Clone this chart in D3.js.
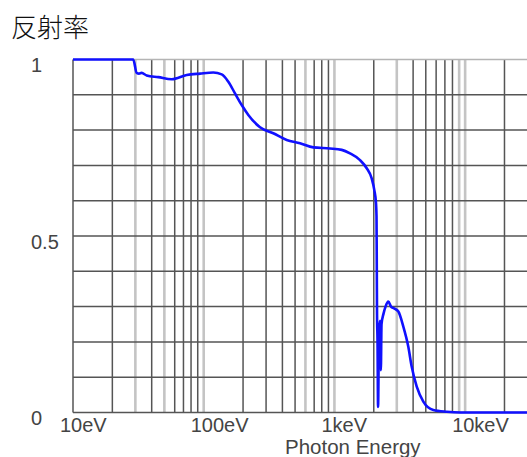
<!DOCTYPE html>
<html>
<head>
<meta charset="utf-8">
<script src="https://cdn.jsdelivr.net/npm/d3@7/dist/d3.min.js"></script>
<style>
html,body{margin:0;padding:0;background:#fff;}
svg{display:block;}
</style>
</head>
<body>
<svg id="chart" width="527" height="457"></svg>
<script>
// Data
const energyEV = [10, 28.9, 30.7, 32, 33.5, 36.6, 45, 56.9, 74.1, 93.7, 118.4, 137.3, 154.3, 173.5, 195.3, 219.4, 269.6, 340.7, 431.3, 545, 690, 925, 1137, 1316, 1570, 1766, 1928, 2019, 2080, 2099, 2110, 2118, 2137, 2157, 2193, 2233, 2265, 2293, 2375, 2461, 2584, 2710, 2858, 3083, 3367, 3675, 3900, 4263, 4788, 5712, 7227, 9145, 30000];
const reflectance = [1.0, 1.0, 0.962, 0.960, 0.962, 0.955, 0.950, 0.944, 0.956, 0.960, 0.963, 0.958, 0.937, 0.904, 0.871, 0.843, 0.808, 0.791, 0.772, 0.763, 0.751, 0.748, 0.744, 0.734, 0.715, 0.692, 0.663, 0.630, 0.593, 0.555, 0.40, 0.28, 0.20, 0.016, 0.23, 0.26, 0.12, 0.25, 0.28, 0.30, 0.314, 0.30, 0.295, 0.286, 0.243, 0.186, 0.13, 0.073, 0.031, 0.007, 0.002, 0, 0];
const xTickValues = [10, 100, 1000, 10000];
const xTickLabels = ["10eV", "100eV", "1keV", "10keV"];
const yTickValues = [0, 0.5, 1];
const yTickLabels = ["0", "0.5", "1"];
const lightGridValues = [30, 50, 100, 600, 1000, 3000, 9000, 10000];
const title = "反射率";
const xTitle = "Photon Energy";

const svg = d3.select("#chart");
const x = d3.scaleLog().domain([10, 30000]).range([73, 527.5]);
const y = d3.scaleLinear().domain([0, 1]).range([412.5, 59.5]);

// vertical grid values (1..9 per decade)
const vGrid = [];
[10, 100, 1000, 10000].forEach(d => {
  for (let k = 1; k <= 9; k++) {
    const v = d * k;
    if (v > 10 && v < 30000) vGrid.push(v);
  }
});

const g = svg.append("g");
const yMin = y(0), yMax = y(1);

// light vertical lines
g.selectAll("line.vl").data(vGrid.filter(v => lightGridValues.includes(v)))
  .enter().append("line")
  .attr("x1", d => x(d)).attr("x2", d => x(d))
  .attr("y1", yMax).attr("y2", yMin)
  .attr("stroke", "#c4c4c4").attr("stroke-width", 2.6);

// dark vertical lines
g.selectAll("line.vd").data(vGrid.filter(v => !lightGridValues.includes(v)))
  .enter().append("line")
  .attr("x1", d => x(d)).attr("x2", d => x(d))
  .attr("y1", yMax).attr("y2", yMin)
  .attr("stroke", "#555").attr("stroke-width", 1.5);

// horizontal lines
const hGrid = d3.range(1, 10).map(i => i / 10);
g.selectAll("line.h").data(hGrid).enter().append("line")
  .attr("x1", x(10)).attr("x2", 527)
  .attr("y1", d => y(d)).attr("y2", d => y(d))
  .attr("stroke", "#555").attr("stroke-width", 1.5);

// top border (light)
g.append("line").attr("x1", x(10)).attr("x2", 527)
  .attr("y1", y(1)).attr("y2", y(1))
  .attr("stroke", "#b4b4b4").attr("stroke-width", 1.5);
// bottom axis
g.append("line").attr("x1", x(10)).attr("x2", 527)
  .attr("y1", y(0)).attr("y2", y(0))
  .attr("stroke", "#555").attr("stroke-width", 1.5);
// left border
g.append("line").attr("x1", x(10)).attr("x2", x(10))
  .attr("y1", yMax).attr("y2", yMin)
  .attr("stroke", "#555").attr("stroke-width", 1.5);

// curve
const pts = energyEV.map((e, i) => [e, reflectance[i]]);
const line = d3.line().x(d => x(d[0])).y(d => y(d[1])).curveMonotoneX;
svg.append("path")
  .datum(pts)
  .attr("d", d3.line().x(d => x(d[0])).y(d => y(d[1])).curve(d3.curveMonotoneX))
  .attr("fill", "none")
  .attr("stroke", "#1010ff")
  .attr("stroke-width", 2.6)
  .attr("stroke-linejoin", "round");

const font = "'Liberation Sans', Arial, sans-serif";
// x tick labels
svg.selectAll("text.xt").data(xTickValues).enter().append("text")
  .attr("x", d => x(d) - 13)
  .attr("y", 432)
  .attr("font-family", font).attr("font-size", 20)
  .attr("fill", "#444")
  .text((d, i) => xTickLabels[i]);

// y tick labels
svg.selectAll("text.yt").data(yTickValues).enter().append("text")
  .attr("x", 31)
  .attr("y", d => y(d) + 12.5)
  .attr("font-family", font).attr("font-size", 20)
  .attr("fill", "#444")
  .text((d, i) => yTickLabels[i]);

// x title
svg.append("text").attr("x", 285).attr("y", 454)
  .attr("font-family", font).attr("font-size", 20.5)
  .attr("fill", "#444").text(xTitle);

// title
svg.append("text").attr("x", 11).attr("y", 36.5)
  .attr("font-family", "'Noto Sans CJK JP', sans-serif")
  .attr("font-weight", 300)
  .attr("font-size", 26)
  .attr("fill", "#111").text(title);
</script>
</body>
</html>
